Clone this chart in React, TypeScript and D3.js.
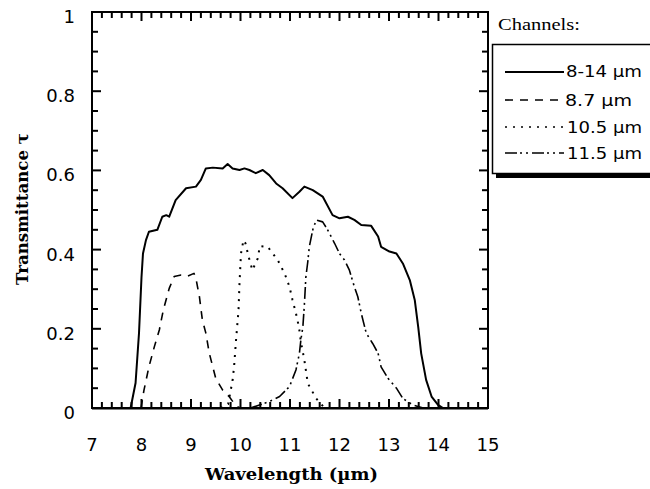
import React from "react";
import * as d3 from "d3";

// ---- data ----
const xTicks = [7, 8, 9, 10, 11, 12, 13, 14, 15];
const yTicks = [0, 0.2, 0.4, 0.6, 0.8, 1];
const yTickLabels = ["0", "0.2", "0.4", "0.6", "0.8", "1"];

const wlBroad = [7.7, 7.78, 7.88, 7.95, 8.0, 8.03, 8.09, 8.15, 8.32, 8.42, 8.5, 8.56, 8.69, 8.9, 9.1, 9.2, 9.3, 9.44, 9.64, 9.74, 9.84, 9.98, 10.08, 10.18, 10.31, 10.45, 10.58, 10.72, 10.85, 11.05, 11.19, 11.29, 11.46, 11.66, 11.86, 12.0, 12.17, 12.3, 12.44, 12.64, 12.78, 12.84, 13.01, 13.15, 13.28, 13.42, 13.52, 13.59, 13.65, 13.75, 13.86, 13.99, 14.09, 14.2];
const tauBroad = [0, 0, 0.063, 0.19, 0.33, 0.39, 0.424, 0.445, 0.45, 0.483, 0.487, 0.483, 0.525, 0.555, 0.559, 0.576, 0.605, 0.607, 0.605, 0.616, 0.605, 0.601, 0.605, 0.601, 0.593, 0.601, 0.588, 0.567, 0.555, 0.53, 0.546, 0.559, 0.55, 0.534, 0.487, 0.479, 0.483, 0.475, 0.462, 0.46, 0.433, 0.407, 0.395, 0.39, 0.365, 0.323, 0.273, 0.205, 0.138, 0.071, 0.029, 0.008, 0, 0];

const wl87 = [7.99, 8.05, 8.15, 8.26, 8.36, 8.44, 8.56, 8.66, 8.8, 8.93, 9.06, 9.1, 9.17, 9.23, 9.3, 9.37, 9.5, 9.64, 9.77, 9.91, 10.0];
const tau87 = [0, 0.045, 0.104, 0.155, 0.197, 0.247, 0.302, 0.332, 0.336, 0.333, 0.34, 0.327, 0.281, 0.222, 0.189, 0.138, 0.075, 0.045, 0.029, 0.005, 0];

const wl105 = [9.6, 9.75, 9.84, 9.87, 9.91, 9.96, 9.98, 10.01, 10.06, 10.1, 10.16, 10.24, 10.35, 10.39, 10.55, 10.75, 10.89, 10.99, 11.05, 11.12, 11.18, 11.22, 11.29, 11.36, 11.53, 11.7];
const tau105 = [0, 0.01, 0.07, 0.104, 0.172, 0.247, 0.315, 0.39, 0.424, 0.416, 0.384, 0.348, 0.378, 0.409, 0.407, 0.374, 0.34, 0.306, 0.273, 0.239, 0.205, 0.167, 0.121, 0.062, 0.024, 0];

const wl115 = [10.2, 10.58, 10.79, 10.99, 11.12, 11.19, 11.22, 11.26, 11.29, 11.32, 11.36, 11.39, 11.46, 11.53, 11.66, 11.76, 11.9, 12.0, 12.1, 12.2, 12.3, 12.37, 12.44, 12.54, 12.67, 12.78, 12.84, 12.98, 13.15, 13.28, 13.48, 13.69];
const tau115 = [0, 0.016, 0.029, 0.054, 0.096, 0.138, 0.172, 0.205, 0.26, 0.33, 0.37, 0.407, 0.45, 0.475, 0.47, 0.45, 0.416, 0.39, 0.374, 0.348, 0.306, 0.281, 0.239, 0.189, 0.163, 0.138, 0.104, 0.075, 0.05, 0.024, 0.008, 0];

const channelLabels = ["8-14 µm", "8.7 µm", "10.5 µm", "11.5 µm"];
const channelDash = ["none", "8,7", "2,6", "12,3,2,4,2,4"];

export default function App() {
  const W = 650, H = 489;
  const left = 92, right = 488, top = 12, bottom = 408;
  const x = d3.scaleLinear().domain([7, 15]).range([left, right]);
  const y = d3.scaleLinear().domain([0, 1]).range([bottom, top]);
  const line = d3.line<[number, number]>().x(d => x(d[0])).y(d => y(d[1]));

  const series = [
    { wl: wlBroad, tau: tauBroad, dash: channelDash[0], w: 2 },
    { wl: wl87, tau: tau87, dash: channelDash[1], w: 1.6 },
    { wl: wl105, tau: tau105, dash: channelDash[2], w: 2 },
    { wl: wl115, tau: tau115, dash: channelDash[3], w: 1.6 },
  ];

  const xMinor = d3.range(0, 41).map(i => 7 + i * 0.2);
  const yMinor = d3.range(0, 21).map(i => i * 0.05);

  const legendRows = [72, 100, 127, 153];
  const legendBase = [77, 106, 133, 159];
  const legendTextX = [566, 565, 567, 567];
  const legendTextLen = [76, 67, 75, 75];

  return (
    <svg width={W} height={H} style={{ position: "absolute", left: 0, top: 0, background: "#fff" }}>
      <rect x={0} y={0} width={W} height={H} fill="#fff" />
      {/* curves */}
      {series.map((s, i) => (
        <path key={i} d={line(s.wl.map((v, j) => [v, s.tau[j]] as [number, number])) || ""}
          fill="none" stroke="#000" strokeWidth={s.w} strokeDasharray={s.dash === "none" ? undefined : s.dash}
          strokeLinejoin="round" />
      ))}
      {/* frame */}
      <rect x={left} y={top} width={right - left} height={bottom - top} fill="none" stroke="#000" strokeWidth={2} />
      <line x1={left} x2={right} y1={bottom + 0.5} y2={bottom + 0.5} stroke="#000" strokeWidth={2} />
      {/* ticks */}
      {xMinor.map((v, i) => {
        const len = i % 5 === 0 ? 9 : 6;
        return (
          <React.Fragment key={"xt" + i}>
            <rect x={x(v) - 1} y={bottom - len} width={2} height={len} fill="#000" />
            <rect x={x(v) - 1} y={top} width={2} height={len} fill="#000" />
          </React.Fragment>
        );
      })}
      {yMinor.map((v, i) => {
        const len = i % 4 === 0 ? 9 : 6;
        return (
          <React.Fragment key={"yt" + i}>
            <rect x={left} y={y(v) - 1} width={len} height={2} fill="#000" />
            <rect x={right - len} y={y(v) - 1} width={len} height={2} fill="#000" />
          </React.Fragment>
        );
      })}
      {/* tick labels */}
      {xTicks.map((v, i) => (
        <text key={"xl" + i} x={x(v)} y={451} textAnchor="middle" fontFamily="DejaVu Sans" fontSize={18}>{v}</text>
      ))}
      {yTicks.map((v, i) => (
        <text key={"yl" + i} x={75} y={y(v) + 11} textAnchor="end" fontFamily="DejaVu Sans" fontSize={18}>{yTickLabels[i]}</text>
      ))}
      {/* axis titles */}
      <text x={205} y={480} fontFamily="DejaVu Serif" fontWeight="bold" fontSize={16} textLength={173} lengthAdjust="spacingAndGlyphs">Wavelength (µm)</text>
      <text transform="translate(28,285) rotate(-90)" x={0} y={0} fontFamily="DejaVu Serif" fontWeight="bold" fontSize={16} textLength={152} lengthAdjust="spacingAndGlyphs">Transmittance τ</text>
      {/* legend */}
      <text x={498} y={30} fontFamily="Liberation Serif" fontSize={17} textLength={82} lengthAdjust="spacingAndGlyphs">Channels:</text>
      <rect x={496} y={172} width={170} height={6} fill="#000" />
      <rect x={492.5} y={44.5} width={180} height={129} fill="#fff" stroke="#000" strokeWidth={1.5} />
      {channelLabels.map((lab, i) => (
        <g key={"lg" + i}>
          <line x1={505} x2={564} y1={legendRows[i]} y2={legendRows[i]} stroke="#000"
            strokeWidth={i === 0 ? 2 : 1.6} strokeDasharray={channelDash[i] === "none" ? undefined : channelDash[i]} />
          <text x={legendTextX[i]} y={legendBase[i]} fontFamily="DejaVu Sans" fontSize={16} textLength={legendTextLen[i]} lengthAdjust="spacingAndGlyphs">{lab}</text>
        </g>
      ))}
    </svg>
  );
}
